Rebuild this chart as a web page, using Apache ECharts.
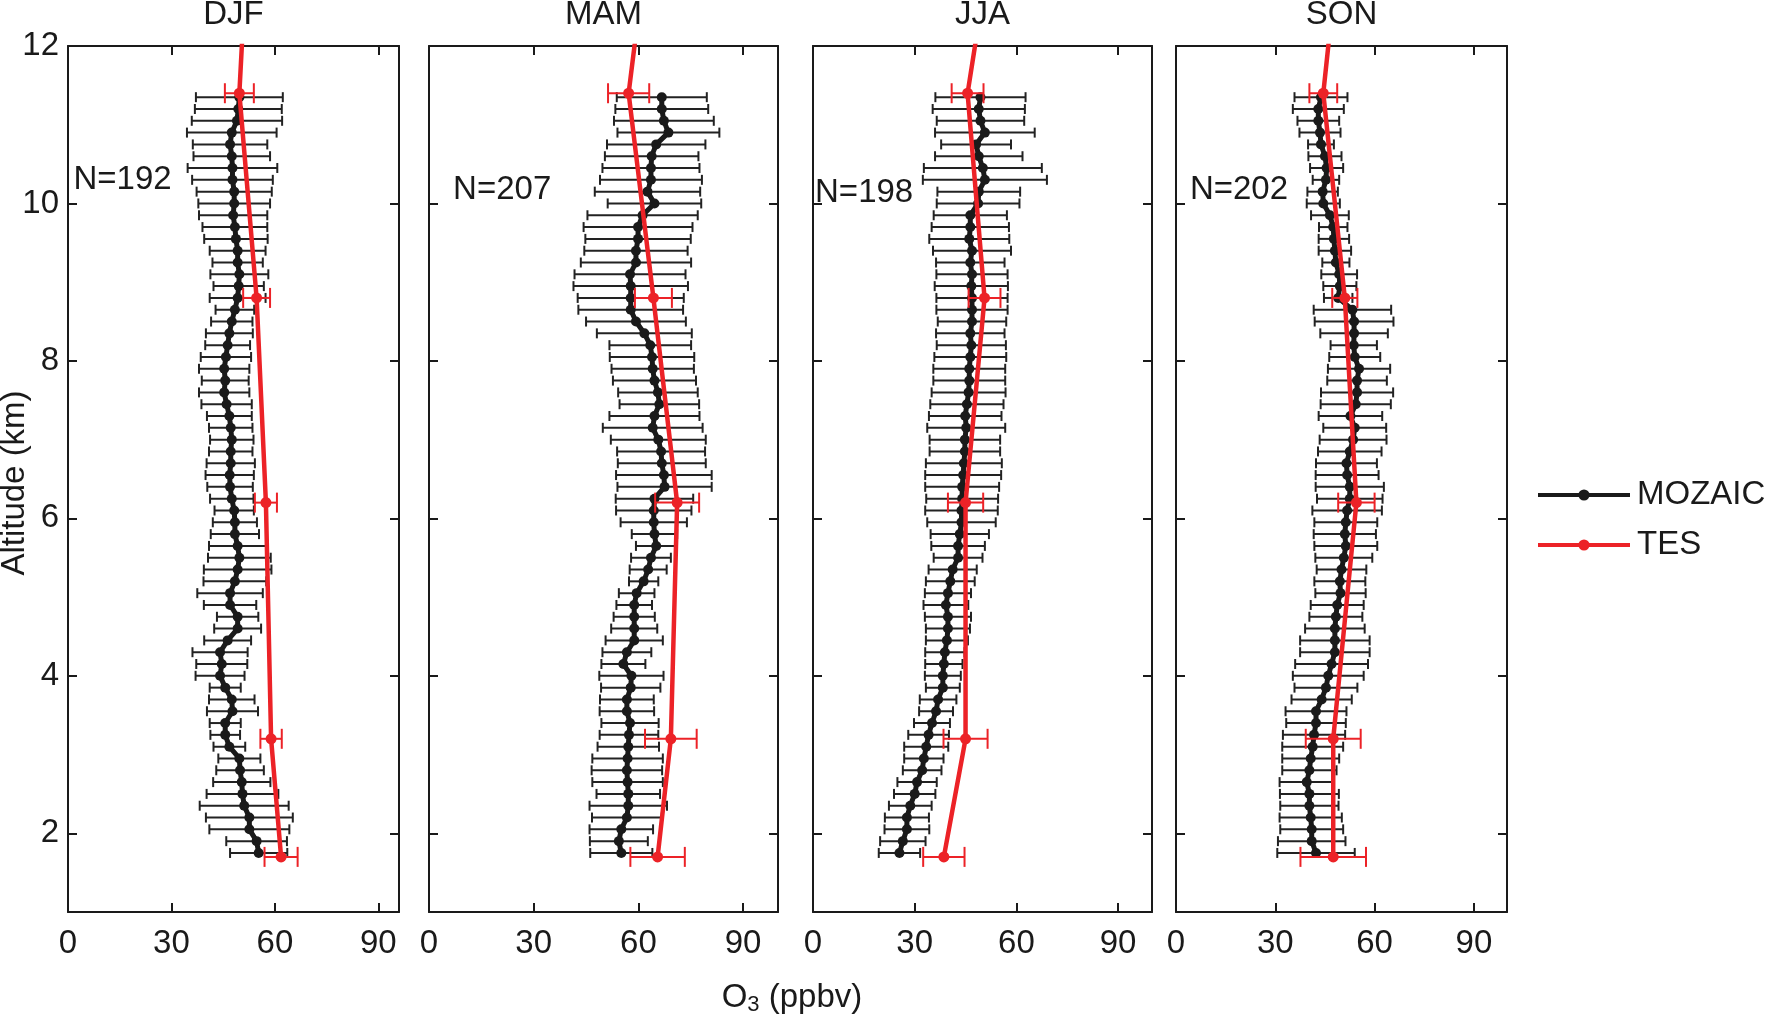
<!DOCTYPE html>
<html>
<head>
<meta charset="utf-8">
<title>O3 profiles MOZAIC / TES</title>
<script src="https://cdn.jsdelivr.net/npm/echarts@6/dist/echarts.min.js"></script>
<style>
  html, body { margin: 0; padding: 0; background: #fff; }
  #chart { width: 1768px; height: 1025px; }
</style>
</head>
<body>
<div id="chart"></div>
<script>
// MOZAIC levels (km), top to bottom
var altLevels = [11.35, 11.20, 11.05, 10.90, 10.75, 10.60, 10.45, 10.30, 10.15, 10.00,
  9.85, 9.70, 9.55, 9.40, 9.25, 9.10, 8.95, 8.80, 8.65, 8.50,
  8.35, 8.20, 8.05, 7.90, 7.75, 7.60, 7.45, 7.30, 7.15, 7.00,
  6.85, 6.70, 6.55, 6.40, 6.25, 6.10, 5.95, 5.80, 5.65, 5.50,
  5.35, 5.20, 5.05, 4.90, 4.75, 4.60, 4.45, 4.30, 4.15, 4.00,
  3.85, 3.70, 3.55, 3.40, 3.25, 3.10, 2.95, 2.80, 2.65, 2.50,
  2.35, 2.20, 2.05, 1.90, 1.75];

// MOZAIC mean O3 (ppbv) and std dev, same order as altLevels
var djfMean = [49.7, 49.4, 49.0, 47.5, 47.0, 47.5, 47.7, 47.7, 48.2, 48.2,
  47.9, 48.4, 48.7, 49.2, 49.2, 49.7, 49.5, 49.2, 48.4, 47.5,
  46.8, 46.3, 45.8, 45.3, 45.6, 45.3, 46.0, 46.8, 47.2, 47.5,
  47.2, 47.2, 46.9, 47.0, 47.5, 48.2, 48.4, 48.4, 49.2, 49.7,
  49.2, 48.4, 47.0, 47.0, 49.2, 49.2, 46.3, 44.1, 44.6, 44.1,
  45.6, 47.5, 47.7, 45.6, 45.6, 46.8, 49.7, 49.9, 50.4, 50.6,
  51.1, 52.6, 52.6, 54.7, 55.3];
var djfSd = [12.6, 12.6, 13.1, 13.0, 10.8, 11.1, 13.0, 11.7, 10.9, 10.4,
  9.9, 9.4, 9.2, 8.1, 7.3, 8.4, 7.3, 8.1, 5.6, 6.0,
  6.8, 6.5, 7.3, 7.3, 6.8, 7.3, 7.3, 6.5, 6.3, 6.3,
  6.3, 7.0, 7.0, 6.6, 6.3, 5.7, 6.4, 7.0, 8.3, 9.1,
  9.8, 9.1, 9.5, 7.6, 6.0, 6.8, 6.8, 8.0, 7.4, 7.1,
  4.5, 6.6, 7.4, 4.5, 4.3, 4.6, 6.1, 6.9, 8.3, 10.4,
  12.9, 12.6, 11.6, 8.8, 8.3];

var mamMean = [66.7, 66.7, 67.3, 68.6, 65.1, 63.8, 63.6, 63.6, 62.6, 64.6,
  61.2, 59.9, 59.9, 59.3, 59.3, 57.6, 57.8, 57.8, 57.8, 59.3,
  61.7, 63.4, 63.9, 64.1, 64.6, 65.6, 66.0, 64.6, 64.1, 65.7,
  66.5, 66.7, 67.3, 67.5, 64.6, 64.4, 64.4, 64.6, 65.1, 63.6,
  62.8, 61.5, 59.5, 58.8, 58.8, 58.8, 58.8, 56.7, 55.7, 58.0,
  57.8, 56.7, 56.7, 57.6, 57.3, 57.1, 56.9, 56.7, 56.9, 57.1,
  57.1, 56.7, 55.1, 54.4, 55.1];
var mamSd = [12.9, 13.3, 14.3, 14.6, 14.1, 13.4, 13.9, 14.6, 15.1, 13.4,
  15.8, 15.6, 15.1, 14.8, 15.8, 15.9, 16.4, 15.2, 15.0, 14.3,
  13.6, 11.7, 12.1, 11.8, 11.9, 11.4, 11.4, 12.9, 14.3, 13.6,
  12.6, 12.6, 13.7, 13.5, 11.1, 10.8, 9.5, 6.5, 5.8, 5.7,
  5.3, 4.2, 5.1, 5.1, 5.9, 6.6, 8.2, 7.0, 6.3, 9.2,
  8.5, 7.7, 7.8, 8.2, 8.4, 8.8, 10.1, 10.1, 10.1, 9.1,
  11.1, 10.0, 9.1, 8.3, 8.9];

var jjaMean = [49.4, 48.9, 49.4, 50.7, 48.1, 48.9, 50.1, 50.7, 48.9, 48.7,
  46.4, 46.4, 46.1, 46.9, 46.4, 46.9, 46.7, 46.9, 46.9, 46.9,
  46.4, 46.7, 46.4, 46.1, 46.1, 45.9, 45.4, 44.9, 45.2, 44.8,
  44.8, 44.5, 44.3, 44.0, 44.0, 43.8, 43.8, 43.3, 42.8, 42.8,
  41.2, 40.5, 39.8, 39.2, 39.8, 39.8, 39.5, 38.9, 38.6, 38.3,
  38.3, 36.9, 36.3, 35.1, 34.1, 33.4, 32.7, 32.2, 30.7, 30.0,
  28.7, 27.7, 27.7, 26.5, 25.5];
var jjaSd = [13.3, 13.6, 12.9, 14.7, 10.3, 12.9, 17.4, 18.3, 12.2, 12.2,
  10.8, 11.4, 11.8, 11.5, 10.1, 10.5, 10.8, 10.5, 10.5, 10.1,
  10.1, 10.2, 10.6, 10.6, 10.6, 10.9, 10.8, 10.7, 11.5, 10.4,
  10.4, 11.2, 11.2, 10.9, 10.6, 10.7, 10.1, 8.6, 7.9, 7.2,
  7.1, 7.2, 6.8, 6.6, 6.8, 6.5, 6.2, 5.8, 5.5, 5.3,
  5.0, 5.4, 5.0, 5.3, 6.0, 6.5, 5.8, 5.7, 5.8, 6.1,
  6.3, 6.5, 6.6, 6.7, 6.1];

var sonMean = [43.8, 43.0, 43.0, 43.5, 43.8, 45.0, 45.5, 45.3, 44.3, 44.5,
  46.5, 47.5, 47.7, 48.0, 48.3, 49.3, 49.5, 49.0, 53.3, 53.8,
  53.8, 53.7, 54.0, 55.3, 54.7, 54.7, 54.3, 52.7, 54.0, 53.5,
  52.5, 51.5, 51.7, 52.5, 52.5, 51.7, 51.3, 51.0, 51.3, 50.7,
  50.0, 49.5, 49.7, 48.7, 48.3, 48.0, 48.0, 48.0, 47.0, 46.0,
  45.3, 44.0, 42.3, 42.3, 41.7, 41.3, 40.7, 40.3, 39.5, 40.3,
  40.3, 40.7, 41.0, 41.0, 42.3];
var sonSd = [8.0, 7.7, 6.3, 6.2, 3.9, 5.0, 5.0, 4.0, 4.6, 5.0,
  5.7, 4.3, 4.6, 4.9, 4.1, 5.4, 5.0, 4.3, 11.7, 11.9,
  10.2, 7.0, 7.7, 9.4, 9.0, 10.9, 10.6, 9.6, 9.5, 10.1,
  9.6, 9.2, 9.5, 10.3, 9.9, 10.5, 9.5, 9.4, 9.5, 8.6,
  7.5, 7.7, 7.6, 8.0, 8.0, 9.0, 10.5, 10.5, 11.0, 10.7,
  9.5, 9.1, 9.2, 9.0, 9.4, 9.2, 8.6, 8.2, 8.2, 8.9,
  8.8, 9.4, 9.5, 10.2, 11.7];

// TES levels (km); the last one lies above the plotted range
var tesAlt = [1.7, 3.2, 6.2, 8.8, 11.4, 13.9];
var djfTes = [61.8, 58.9, 57.4, 54.7, 49.7, 52.7];
var mamTes = [65.5, 69.3, 71.1, 64.3, 57.2, 64.2];
var jjaTes = [38.6, 45.0, 45.0, 50.6, 45.6, 54.7];
var sonTes = [47.5, 47.5, 54.5, 51.0, 44.5, 50.8];
var djfTesErr = [4.8, 3.1, 3.2, 3.9, 4.2];
var mamTesErr = [7.8, 7.4, 6.3, 5.3, 5.9];
var jjaTesErr = [6.1, 6.5, 5.2, 4.7, 4.7];
var sonTesErr = [9.9, 8.3, 5.5, 3.8, 4.2];

var seasons = ['DJF', 'MAM', 'JJA', 'SON'];
var nProfiles = ['N=192', 'N=207', 'N=198', 'N=202'];
var xTicks = [0, 30, 60, 90];
var yTicks = [2, 4, 6, 8, 10, 12];

// layout
var boxes = [
  {left: 68, width: 331, xMax: 96},
  {left: 429, width: 349, xMax: 100},
  {left: 813, width: 339, xMax: 100},
  {left: 1176, width: 331, xMax: 100}
];
var nLabelAt = [[1.6, 10.3], [6.9, 10.17], [0.6, 10.14], [4.2, 10.17]];
var TOP = 46, HEIGHT = 866;
var FONT = 'Liberation Sans, Arial, Helvetica, sans-serif';
var INK = '#1a1a1a';
var RED = '#ec2227';

var mozMean = [djfMean, mamMean, jjaMean, sonMean];
var mozSd = [djfSd, mamSd, jjaSd, sonSd];
var tesVal = [djfTes, mamTes, jjaTes, sonTes];
var tesErr = [djfTesErr, mamTesErr, jjaTesErr, sonTesErr];

// horizontal error bar with end caps
function errorBars(capHalf, color) {
  return function (params, api) {
    var m = api.value(0), s = api.value(1), a = api.value(2);
    var l = api.coord([m - s, a]);
    var r = api.coord([m + s, a]);
    function seg(x1, y1, x2, y2) {
      return {type: 'line', shape: {x1: x1, y1: y1, x2: x2, y2: y2},
        style: {stroke: color, lineWidth: 2}};
    }
    return {type: 'group', children: [
      seg(l[0], l[1], r[0], r[1]),
      seg(l[0], l[1] - capHalf, l[0], l[1] + capHalf),
      seg(r[0], r[1] - capHalf, r[0], r[1] + capHalf)
    ]};
  };
}

var myChart = echarts.init(document.getElementById('chart'));

var grids = [], xAxes = [], yAxes = [], series = [], graphics = [];
var axisLineStyle = {color: INK, width: 2};

for (var i = 0; i < 4; i++) {
  var b = boxes[i];
  grids.push({left: b.left, top: TOP, width: b.width, height: HEIGHT});

  ['bottom', 'top'].forEach(function (pos) {
    xAxes.push({
      gridIndex: i, type: 'value', position: pos, min: 0, max: b.xMax,
      axisLine: {show: true, onZero: false, lineStyle: axisLineStyle},
      axisTick: {show: true, inside: true, length: 9, customValues: xTicks,
        lineStyle: {color: INK, width: 2}},
      axisLabel: {show: pos === 'bottom', customValues: xTicks, margin: 15,
        fontSize: 33, fontFamily: FONT, color: INK},
      splitLine: {show: false}
    });
  });
  ['left', 'right'].forEach(function (pos) {
    yAxes.push({
      gridIndex: i, type: 'value', position: pos, min: 1, max: 12,
      axisLine: {show: true, onZero: false, lineStyle: axisLineStyle},
      axisTick: {show: true, inside: true, length: 9, customValues: yTicks,
        lineStyle: {color: INK, width: 2}},
      axisLabel: {show: pos === 'left' && i === 0, customValues: yTicks, margin: 9,
        fontSize: 33, fontFamily: FONT, color: INK},
      splitLine: {show: false}
    });
  });

  var mozErrData = [], mozLine = [];
  for (var k = 0; k < altLevels.length; k++) {
    mozErrData.push([mozMean[i][k], mozSd[i][k], altLevels[k]]);
    mozLine.push([mozMean[i][k], altLevels[k]]);
  }
  var tesErrData = [], tesLine = [];
  for (var t = 0; t < tesAlt.length; t++) {
    tesLine.push([tesVal[i][t], tesAlt[t]]);
    if (t < tesErr[i].length) tesErrData.push([tesVal[i][t], tesErr[i][t], tesAlt[t]]);
  }

  series.push({
    type: 'custom', name: 'mozErr', xAxisIndex: 2 * i, yAxisIndex: 2 * i,
    renderItem: errorBars(5, '#222222'), encode: {x: 0, y: 2},
    data: mozErrData, z: 2, silent: true
  });
  series.push({
    type: 'line', name: 'MOZAIC', xAxisIndex: 2 * i, yAxisIndex: 2 * i,
    data: mozLine, symbol: 'circle', symbolSize: 10,
    lineStyle: {color: INK, width: 5}, itemStyle: {color: INK}, z: 3
  });
  series.push({
    type: 'custom', name: 'tesErr', xAxisIndex: 2 * i, yAxisIndex: 2 * i,
    renderItem: errorBars(10, RED), encode: {x: 0, y: 2},
    data: tesErrData, z: 4, silent: true
  });
  series.push({
    type: 'line', name: 'TES', xAxisIndex: 2 * i, yAxisIndex: 2 * i,
    data: tesLine, symbol: 'circle', symbolSize: 11, clip: true,
    lineStyle: {color: RED, width: 4.5}, itemStyle: {color: RED}, z: 5
  });
  // N= annotation
  series.push({
    type: 'scatter', name: 'nlabel', xAxisIndex: 2 * i, yAxisIndex: 2 * i,
    data: [nLabelAt[i]], symbolSize: 0, silent: true, z: 6,
    itemStyle: {color: INK, opacity: 1},
    label: {show: true, position: 'right', distance: 0, verticalAlign: 'middle',
      formatter: nProfiles[i], fontSize: 33, fontFamily: FONT, color: INK,
      opacity: 1, textBorderWidth: 0}
  });

  graphics.push({
    type: 'text', x: b.left + b.width / 2, y: 15,
    style: {text: seasons[i], fontSize: 33, fontFamily: FONT, fill: INK,
      align: 'center', verticalAlign: 'middle'}
  });
}

graphics.push({
  type: 'text', x: 15, y: 483, rotation: Math.PI / 2,
  style: {text: 'Altitude (km)', fontSize: 33, fontFamily: FONT, fill: INK,
    align: 'center', verticalAlign: 'middle'}
});
graphics.push({
  type: 'text', x: 792, y: 998,
  style: {
    text: '{a|O}{s|3}{a| (ppbv)}', fill: INK, align: 'center', verticalAlign: 'middle',
    rich: {
      a: {fontSize: 33, fontFamily: FONT, lineHeight: 36, fill: INK},
      s: {fontSize: 22, fontFamily: FONT, lineHeight: 22, verticalAlign: 'bottom', fill: INK}
    }
  }
});

option = {
  backgroundColor: '#fff',
  animation: false,
  grid: grids,
  xAxis: xAxes,
  yAxis: yAxes,
  legend: {
    data: ['MOZAIC', 'TES'],
    orient: 'vertical',
    left: 1531, top: 473,
    itemWidth: 92, itemHeight: 14, itemGap: 16,
    lineStyle: {width: 4},
    textStyle: {fontSize: 33, fontFamily: FONT, color: INK, lineHeight: 34,
      padding: [0, 0, 0, 2]},
    selectedMode: false
  },
  graphic: graphics,
  series: series
};
myChart.setOption(option);
</script>
</body>
</html>
